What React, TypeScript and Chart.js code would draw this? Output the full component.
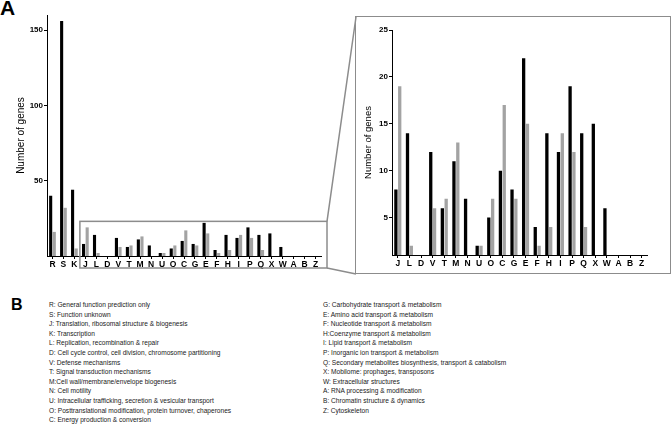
import React, { useEffect, useRef } from "react";
import { Chart, registerables } from "chart.js";

Chart.register(...registerables);

const FONT = "'Liberation Sans', Arial, Helvetica, sans-serif";

// ---- data ----
const mainCategories = ["R", "S", "K"];
const mainBlack = [40, 156, 44];
const mainGray = [16, 32, 5];

const detailCategories = ["J", "L", "D", "V", "T", "M", "N", "U", "O", "C", "G", "E", "F", "H", "I", "P", "Q", "X", "W", "A", "B", "Z"];
const detailBlack = [8, 14, 0, 12, 6, 11, 7, 2, 5, 10, 8, 22, 4, 14, 12, 19, 14, 15, 6, 0, 0, 0];
const detailGray = [19, 2, 0, 6, 7, 13, 0, 2, 7, 17, 7, 15, 2, 4, 14, 12, 4, 0, 0, 0, 0, 0];

const overviewTicks = [50, 100, 150];
const detailTicks = [5, 10, 15, 20, 25];

const legendLeft = [
  "R: General function prediction only",
  "S: Function unknown",
  "J: Translation, ribosomal structure & biogenesis",
  "K: Transcription",
  "L: Replication, recombination & repair",
  "D: Cell cycle control, cell division, chromosome partitioning",
  "V: Defense mechanisms",
  "T: Signal transduction mechanisms",
  "M:Cell wall/membrane/envelope biogenesis",
  "N: Cell motility",
  "U: Intracellular trafficking, secretion & vesicular transport",
  "O: Posttranslational modification, protein turnover, chaperones",
  "C: Energy production & conversion",
];
const legendRight = [
  "G: Carbohydrate transport & metabolism",
  "E: Amino acid transport & metabolism",
  "F: Nucleotide transport & metabolism",
  "H:Coenzyme transport & metabolism",
  "I: Lipid transport & metabolism",
  "P: Inorganic ion transport & metabolism",
  "Q: Secondary metabolites biosynthesis, transport & catabolism",
  "X: Mobilome: prophages, transposons",
  "W: Extracellular structures",
  "A: RNA processing & modification",
  "B: Chromatin structure & dynamics",
  "Z: Cytoskeleton",
];

const BLACK = "#000000";
const GRAY = "#a3a3a3";
const BOX = "#8c8c8c";

function buildConfig(opts: any) {
  const {
    labels, black, gray, yMin, yMax, ticks, yWidth, xHeight, padding,
    titleSize, titlePad, plugins,
  } = opts;
  return {
    type: "bar",
    data: {
      labels,
      datasets: [
        { data: black, backgroundColor: BLACK, borderWidth: 0, categoryPercentage: 0.66, barPercentage: 0.86, clip: 0 },
        { data: gray, backgroundColor: GRAY, borderWidth: 0, categoryPercentage: 0.66, barPercentage: 0.86, clip: 0 },
      ],
    },
    options: {
      animation: false,
      responsive: false,
      devicePixelRatio: 1,
      layout: { padding },
      plugins: { legend: { display: false }, tooltip: { enabled: false }, title: { display: false } },
      scales: {
        x: {
          offset: true,
          grid: { offset: false, drawOnChartArea: false, drawTicks: true, tickLength: 3, color: BLACK, lineWidth: 1 },
          border: { display: true, color: BLACK, width: 1 },
          ticks: { color: BLACK, padding: 1, maxRotation: 0, autoSkip: false, font: { family: FONT, size: 8.5, weight: "bold" } },
          afterFit: (s: any) => { s.height = xHeight; },
        },
        y: {
          min: yMin,
          max: yMax,
          afterBuildTicks: (s: any) => { s.ticks = ticks.map((v: number) => ({ value: v })); },
          grid: { drawOnChartArea: false, drawTicks: true, tickLength: 3, color: BLACK, lineWidth: 1 },
          border: { display: true, color: BLACK, width: 1 },
          ticks: { color: BLACK, padding: 1, font: { family: FONT, size: 8, weight: "bold" } },
          title: {
            display: true,
            text: "Number of genes",
            color: BLACK,
            font: { family: FONT, size: titleSize },
            padding: { top: titlePad, bottom: 0 },
          },
          afterFit: (s: any) => { s.width = yWidth; },
        },
      },
    },
    plugins: plugins || [],
  };
}

const zoomBoxPlugin = {
  id: "zoomBox",
  afterDraw(chart: any) {
    const { ctx, chartArea, scales } = chart;
    const x = scales.x;
    const y = scales.y;
    const half = (x.getPixelForValue(1) - x.getPixelForValue(0)) / 2;
    const left = x.getPixelForValue(mainCategories.length) - half;
    const right = chartArea.right + 6;
    const top = y.getPixelForValue(23);
    const bottom = chartArea.bottom + 12;
    ctx.save();
    ctx.strokeStyle = BOX;
    ctx.lineWidth = 1.5;
    ctx.strokeRect(left, top, right - left, bottom - top);
    ctx.beginPath();
    ctx.moveTo(right, top);
    ctx.lineTo(356, 17);
    ctx.moveTo(right, bottom);
    ctx.lineTo(356, 274);
    ctx.stroke();
    ctx.restore();
  },
};

function Panel(props: { w: number; h: number; style: any; make: () => any }) {
  const ref = useRef<HTMLCanvasElement | null>(null);
  useEffect(() => {
    if (!ref.current) return;
    const chart = new Chart(ref.current, props.make());
    return () => chart.destroy();
  }, []);
  return (
    <canvas
      ref={ref}
      width={props.w}
      height={props.h}
      style={{ position: "absolute", width: props.w, height: props.h, ...props.style }}
    />
  );
}

export default function App() {
  const legendStyle: any = {
    position: "absolute",
    top: 300,
    fontFamily: FONT,
    fontSize: 6.6,
    lineHeight: "9.6px",
    color: "#1a1a1a",
    whiteSpace: "nowrap",
  };
  return (
    <div
      style={{
        position: "fixed",
        left: 0,
        top: 0,
        width: 672,
        height: 432,
        background: "#ffffff",
        overflow: "hidden",
        fontFamily: FONT,
      }}
    >
      <div style={{ position: "absolute", left: 0, top: -3, fontSize: 21, fontWeight: "bold", lineHeight: 1, color: "#000" }}>A</div>
      <div style={{ position: "absolute", left: 11, top: 297, fontSize: 16, fontWeight: "bold", lineHeight: 1, color: "#000" }}>B</div>

      <div
        style={{
          position: "absolute",
          left: 355,
          top: 16,
          width: 316,
          height: 258,
          border: `1.5px solid ${BOX}`,
          boxSizing: "border-box",
        }}
      />

      <Panel
        w={360}
        h={280}
        style={{ left: 0, top: 0 }}
        make={() =>
          buildConfig({
            labels: [...mainCategories, ...detailCategories],
            black: [...mainBlack, ...detailBlack],
            gray: [...mainGray, ...detailGray],
            yMin: 0,
            yMax: 160,
            ticks: overviewTicks,
            yWidth: 47,
            xHeight: 24,
            padding: { left: 0, top: 15, right: 39, bottom: 0 },
            titleSize: 10,
            titlePad: 15.5,
            plugins: [zoomBoxPlugin],
          })
        }
      />

      <Panel
        w={313}
        h={257}
        style={{ left: 357, top: 17 }}
        make={() =>
          buildConfig({
            labels: detailCategories,
            black: detailBlack,
            gray: detailGray,
            yMin: 1,
            yMax: 25,
            ticks: detailTicks,
            yWidth: 35,
            xHeight: 19,
            padding: { left: 0, top: 13, right: 22.5, bottom: 0 },
            titleSize: 9.5,
            titlePad: 5.3,
          })
        }
      />

      <div style={{ ...legendStyle, left: 49 }}>
        {legendLeft.map((t) => (
          <div key={t}>{t}</div>
        ))}
      </div>
      <div style={{ ...legendStyle, left: 323 }}>
        {legendRight.map((t) => (
          <div key={t}>{t}</div>
        ))}
      </div>
    </div>
  );
}
